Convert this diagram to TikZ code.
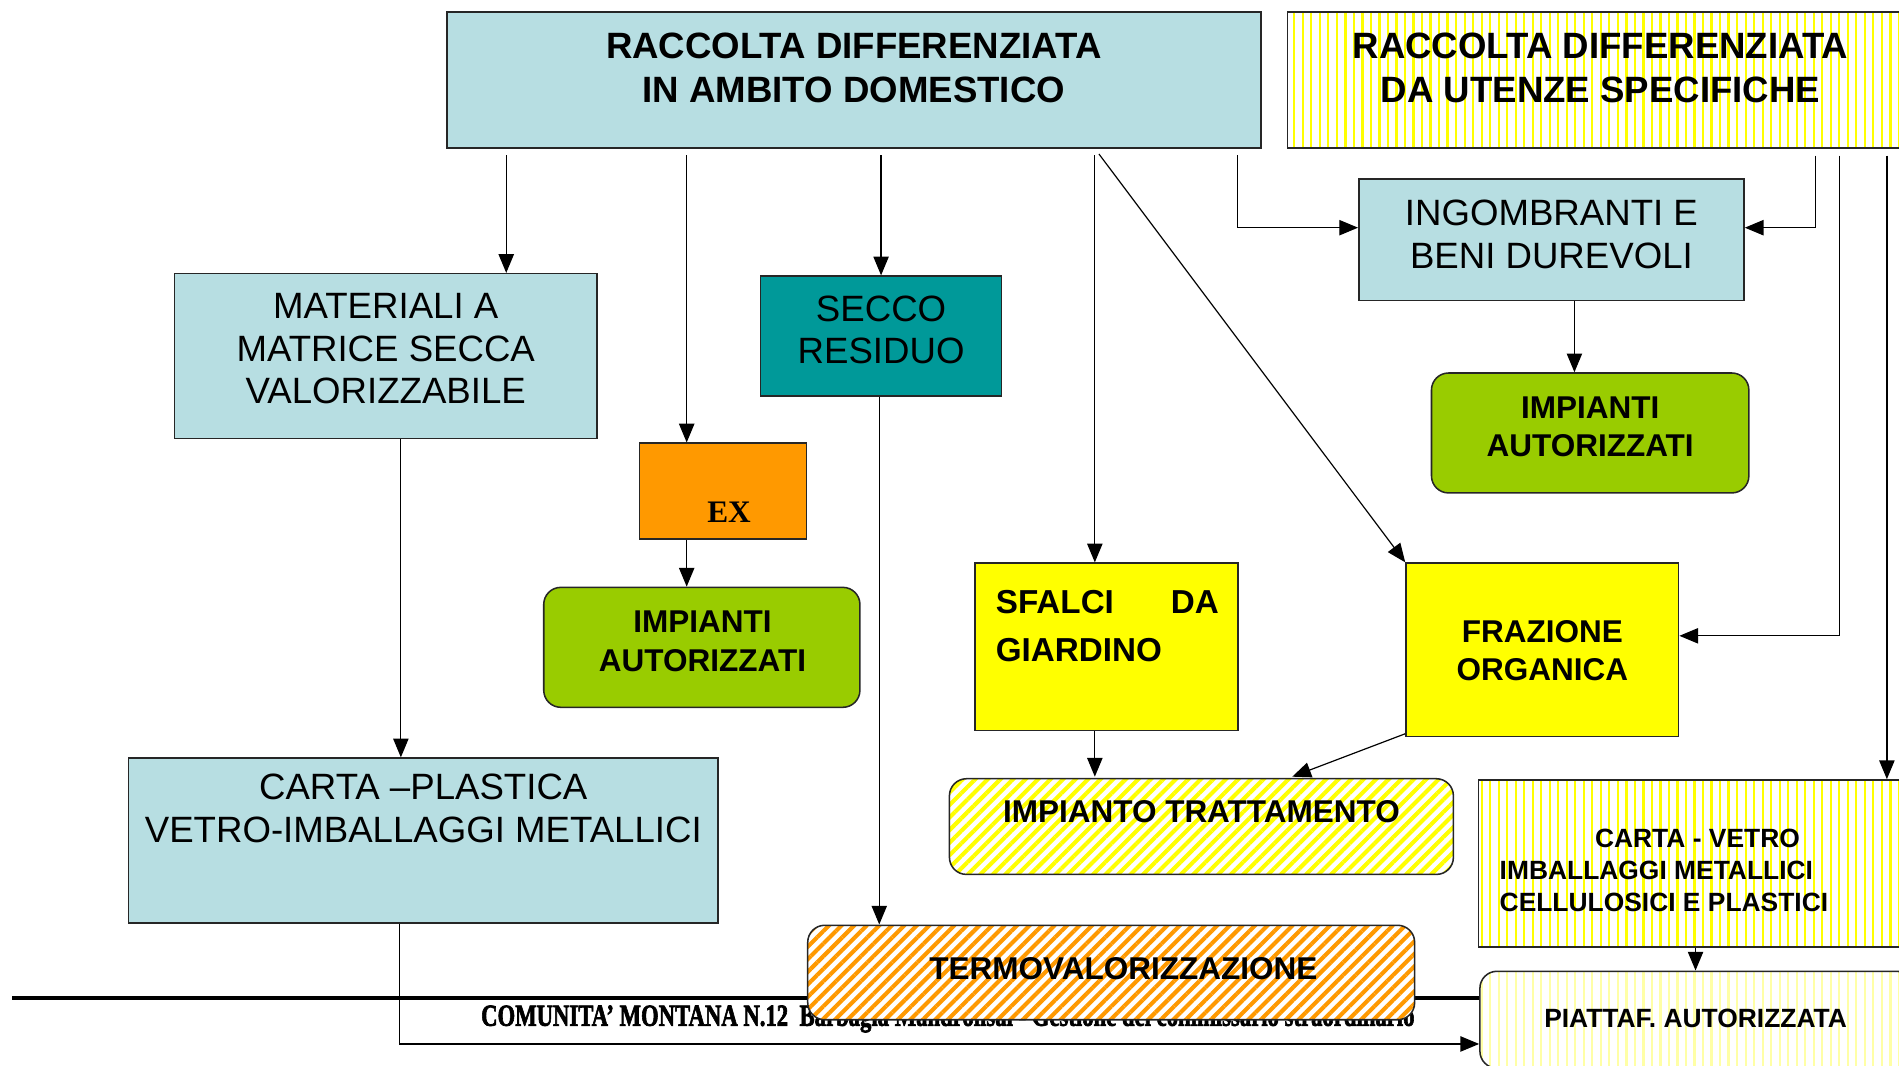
\documentclass[tikz,border=0pt]{standalone}
\usepackage{fontspec}
\setmainfont{Liberation Sans}
\newfontfamily\timesfont{Liberation Serif}
\newfontfamily\footfont[UprightFont=* Bold, FakeBold=2.5]{Liberation Serif}
\usepackage{xcolor}
\usepackage{graphicx}
\usepackage{tikz}
\usetikzlibrary{arrows.meta,patterns.meta}
\definecolor{boxblue}{RGB}{183,222,226}
\definecolor{seccoteal}{RGB}{0,153,153}
\definecolor{exorange}{RGB}{255,153,0}
\definecolor{impgreen}{RGB}{153,204,0}
\definecolor{pureyellow}{RGB}{255,255,0}

\begin{document}
\begin{tikzpicture}[x=0.025cm, y=-0.025cm,
	box/.style={draw=black!85, line width=0.9pt, inner sep=0pt},
	roundbox/.style={box, rounded corners=10pt},
	vstripes/.style={preaction={fill=white}, pattern={Lines[angle=90, distance=5pt, line width=1.3pt]}, pattern color=#1},
	dstripes/.style={preaction={fill=white}, pattern={Lines[angle=45, distance=5.2pt, line width=2.4pt]}, pattern color=#1},
	big/.style={font=\fontsize{21.5}{25}\selectfont, align=center, inner sep=0pt},
	bigbold/.style={font=\fontsize{21.5}{25.5}\selectfont\bfseries, align=center, inner sep=0pt},
	midbold/.style={font=\fontsize{18.5}{22.5}\selectfont\bfseries, align=center, inner sep=0pt},
	smallbold/.style={font=\fontsize{15.5}{18.8}\selectfont\bfseries, inner sep=0pt},
	arr/.style={-{Triangle[length=11pt, width=9pt]}, line width=0.7pt},
	gap/.style={arr, shorten <=4pt}]
	\useasboundingbox (0,0) rectangle (1568,880);
	\clip (0,0) rectangle (1568,880);
	\node[box, fill=boxblue, minimum width=16.8cm, minimum height=2.8cm] (dom) at (705,66) {};
	\node[bigbold] (domtxt) at (705,56) {RACCOLTA DIFFERENZIATA\\IN AMBITO DOMESTICO};
	\node[box, vstripes=pureyellow, minimum width=12.925cm, minimum height=2.8cm] (ute) at (1321.5,66) {};
	\node[bigbold] (utetxt) at (1321.5,56) {RACCOLTA DIFFERENZIATA\\DA UTENZE SPECIFICHE};
	\node[box, fill=boxblue, minimum width=8.725cm, minimum height=3.4cm] (matval) at (318.5,294) {};
	\node[big] (matvaltxt) at (318.5,288) {MATERIALI A\\MATRICE SECCA\\VALORIZZABILE};
	\node[box, fill=seccoteal, minimum width=4.975cm, minimum height=2.475cm] (secco) at (727.5,277.5) {};
	\node[big] (seccotxt) at (727.5,272.5) {SECCO\\RESIDUO};
	\node[box, fill=exorange, minimum width=3.45cm, minimum height=1.975cm] (ex) at (597,405.5) {};
	\node[font=\fontsize{18.4}{22}\selectfont\timesfont\bfseries, inner sep=0pt] (extxt) at (602,423) {EX};
	\node[roundbox, fill=impgreen, minimum width=6.525cm, minimum height=2.475cm] (impl) at (579.5,534.5) {};
	\node[midbold] (impltxt) at (580,529.5) {IMPIANTI\\AUTORIZZATI};
	\node[box, fill=boxblue, minimum width=7.95cm, minimum height=2.5cm] (ingo) at (1281,198) {};
	\node[big] (ingotxt) at (1281,193.5) {INGOMBRANTI E\\BENI DUREVOLI};
	\node[roundbox, fill=impgreen, minimum width=6.55cm, minimum height=2.475cm] (impr) at (1313,357.5) {};
	\node[midbold] (imprtxt) at (1313,352.5) {IMPIANTI\\AUTORIZZATI};
	\node[box, fill=pureyellow, minimum width=5.425cm, minimum height=3.45cm] (sfalci) at (913.5,534) {};
	\node[font=\fontsize{19.5}{28.3}\selectfont\bfseries, inner sep=0pt, anchor=north west, text width=4.6cm, align=left] (sfalcitxt) at (822,487) {SFALCI \hfill DA\\GIARDINO};
	\node[box, fill=pureyellow, minimum width=5.625cm, minimum height=3.575cm] (fraz) at (1273.5,536.5) {};
	\node[midbold] (fraztxt) at (1273.5,537) {FRAZIONE\\ORGANICA};
	\node[roundbox, dstripes=pureyellow, minimum width=10.4cm, minimum height=1.975cm] (imptr) at (992,682.5) {};
	\node[midbold] (imptrtxt) at (992,670) {IMPIANTO TRATTAMENTO};
	\node[box, vstripes=pureyellow, minimum width=8.975cm, minimum height=3.45cm] (cvet) at (1400.5,713) {};
	\node[smallbold, anchor=north west, align=left] (cvettxt) at (1238,684) {\hspace*{56pt}CARTA - VETRO\\IMBALLAGGI METALLICI\\CELLULOSICI E PLASTICI};
	\node[box, fill=boxblue, minimum width=12.175cm, minimum height=3.4cm] (cplast) at (349.5,694) {};
	\node[big] (cplasttxt) at (349.5,667.5) {CARTA –PLASTICA\\VETRO-IMBALLAGGI METALLICI};
	\node[roundbox, vstripes=pureyellow!35, minimum width=8.95cm, minimum height=2cm] (piatt) at (1401,842) {};
	\node[smallbold] (piatttxt) at (1400,841) {PIATTAF. AUTORIZZATA};
	\coordinate (rulestart) at (10,824);
	\draw[line width=2.5pt] (rulestart) -- (piatt.west |- rulestart);
	\node[anchor=base west, inner sep=0pt] (footer) at (397,847) {\resizebox{548pt}{12.5pt}{\footfont COMUNITA’ MONTANA N.12\ \ Barbagia Mandrolisai - Gestione del commissario straordinario}};
	\node[roundbox, dstripes=exorange, minimum width=12.525cm, minimum height=1.95cm] (termo) at (917.5,803) {};
	\node[midbold] (termotxt) at (927.5,800) {TERMOVALORIZZAZIONE};
	\draw[gap] (dom.south -| 418,0) -- (matval.north -| 418,0);
	\draw[gap] (dom.south -| 567,0) -- (ex.north -| 567,0);
	\draw[gap] (dom.south -| 727.5,0) -- (secco.north);
	\draw[gap] (dom.south -| 904,0) -- (sfalci.north -| 904,0);
	\draw[gap] (dom.south -| 904,0) -- (fraz.north west);
	\draw[gap] (dom.south -| 1022,0) |- (ingo.west |- 0,188);
	\draw[gap] (ute.south -| 1499,0) |- (ingo.east |- 0,188);
	\draw[gap] (ute.south -| 1519,0) |- (fraz.east |- 0,525);
	\draw[gap] (ute.south -| 1558,0) -- (cvet.north -| 1558,0);
	\draw[arr] (ingo.south -| 1300,0) -- (impr.north -| 1300,0);
	\draw[arr] (ex.south -| 567,0) -- (impl.north -| 567,0);
	\draw[arr] (matval.south -| 331,0) -- (cplast.north -| 331,0);
	\draw[arr] (secco.south -| 726,0) -- (termo.north -| 726,0);
	\draw[arr] (sfalci.south -| 904,0) -- (imptr.north -| 904,0);
	\draw[arr] ([yshift=2pt]fraz.south west) -- (imptr.north -| 1067,0);
	\draw[arr] (cvet.south -| 1400,0) -- (piatt.north -| 1400,0);
	\draw[arr] (cplast.south -| 330,0) |- (piatt.west |- 0,862);
\end{tikzpicture}
\end{document}
